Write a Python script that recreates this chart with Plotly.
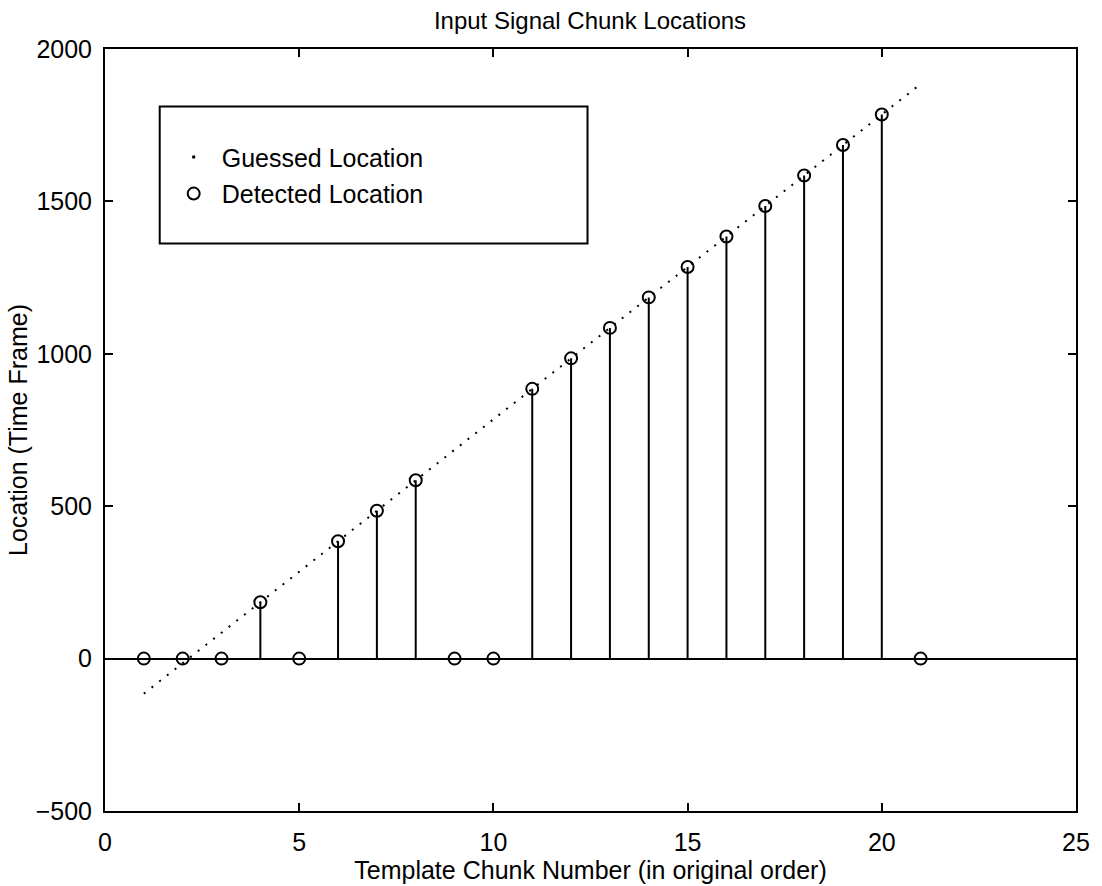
import plotly.graph_objects as go

# ---- data ----
chunk_numbers = list(range(1, 22))
detected_location = [0, 0, 0, 185, 0, 385, 485, 585, 0, 0, 885, 985, 1085,
                     1185, 1285, 1385, 1485, 1585, 1685, 1785, 0]
guessed_x = [1, 21]
guessed_location = [-115, 1885]

x_ticks = [0, 5, 10, 15, 20, 25]
y_ticks = [-500, 0, 500, 1000, 1500, 2000]

FONT = "Liberation Sans, Arial, Helvetica, sans-serif"
W, H = 1102, 886
L, R, T, B = 105, 21, 49, 69
PW, PH = W - L - R, H - T - B


def px2paper_x(p):
    return (p - L) / PW


def px2paper_y(p):
    return 1 - (p - T) / PH


stem_x, stem_y = [], []
for xv, yv in zip(chunk_numbers, detected_location):
    stem_x += [xv, xv, None]
    stem_y += [0, yv, None]

fig = go.Figure()

# guessed location as dotted line
fig.add_trace(go.Scatter(
    x=guessed_x, y=guessed_location, mode="lines",
    line=dict(color="black", width=2, dash="2px,7.8px"),
    showlegend=False, hoverinfo="skip"))
# legend entry for guessed
fig.add_trace(go.Scatter(
    x=[None], y=[None], mode="markers", name="Guessed Location",
    marker=dict(color="black", size=3, symbol="square"),
    legendgroup="g", showlegend=True))

# stems
fig.add_trace(go.Scatter(
    x=stem_x, y=stem_y, mode="lines",
    line=dict(color="black", width=2),
    showlegend=False, hoverinfo="skip"))
# detected markers
fig.add_trace(go.Scatter(
    x=chunk_numbers, y=detected_location, mode="markers",
    name="Detected Location",
    marker=dict(symbol="circle-open", size=12, color="black",
                line=dict(width=2, color="black")),
    legendgroup="d", showlegend=True))

axis_common = dict(
    showline=True, linecolor="black", linewidth=2, mirror="ticks",
    ticks="inside", ticklen=8, tickwidth=1.5, tickcolor="black",
    showgrid=False,
    tickfont=dict(family=FONT, size=25, color="black"),
)

fig.update_layout(
    width=W, height=H,
    margin=dict(l=L, r=R, t=T, b=B),
    paper_bgcolor="white", plot_bgcolor="white",
    font=dict(family=FONT, color="black"),
    title=dict(text="Input Signal Chunk Locations",
               font=dict(family=FONT, size=24, color="black"),
               x=px2paper_x(592.5), xref="paper", xanchor="center",
               y=1 - 21 / H, yref="container", yanchor="middle"),
    xaxis=dict(range=[0, 25], tickvals=x_ticks, zeroline=False,
               title=dict(text="Template Chunk Number (in original order)",
                          font=dict(family=FONT, size=25, color="black"),
                          standoff=0),
               ticklabelstandoff=8,
               **axis_common),
    yaxis=dict(range=[-500, 2000], tickvals=y_ticks,
               zeroline=True, zerolinecolor="black", zerolinewidth=2,
               title=dict(text="Location (Time Frame)",
                          font=dict(family=FONT, size=25, color="black"),
                          standoff=1),
               ticklabelstandoff=6,
               **axis_common),
    legend=dict(x=px2paper_x(166), y=px2paper_y(135),
                xanchor="left", yanchor="top",
                bgcolor="rgba(0,0,0,0)", borderwidth=0,
                font=dict(family=FONT, size=25, color="black"),
                itemwidth=46, tracegroupgap=1),
    shapes=[dict(type="rect", xref="paper", yref="paper",
                 x0=px2paper_x(160), x1=px2paper_x(590),
                 y0=px2paper_y(245), y1=px2paper_y(107),
                 line=dict(color="black", width=2),
                 fillcolor="white", layer="below")],
)

fig.write_html("out.html")
